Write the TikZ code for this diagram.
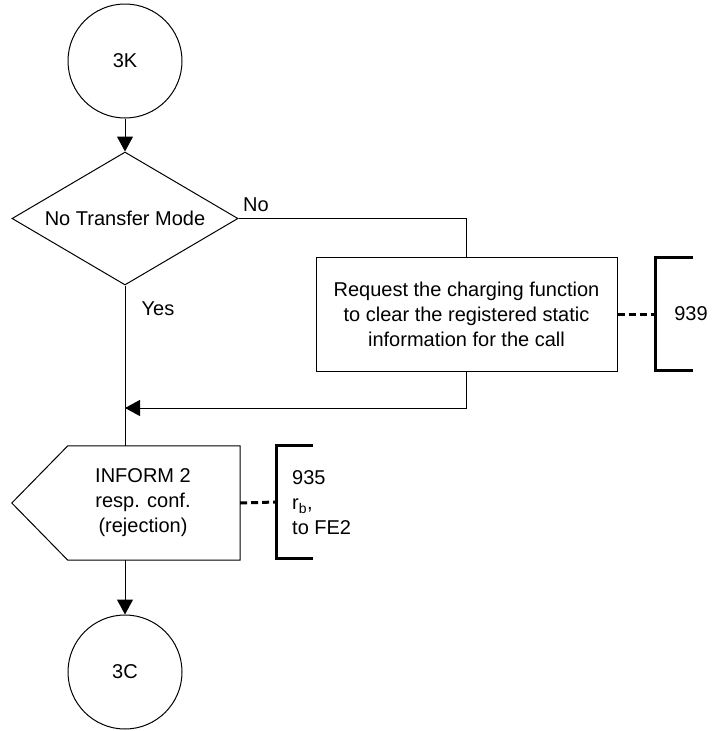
\documentclass[tikz,border=0pt]{standalone}
\usepackage{fontspec}
\setmainfont{Liberation Sans}
\usetikzlibrary{arrows.meta,shapes.geometric,calc}
\begin{document}
\begin{tikzpicture}[x=1pt,y=-1pt,
  every node/.style={font=\fontsize{20}{25}\selectfont},
  line/.style={draw=black,line width=1pt},
  arr/.style={line,-{Triangle[length=15pt,width=16pt]}},
  conn/.style={draw,circle,line width=1pt,minimum size=114pt,inner sep=0pt},
  decision/.style={draw,diamond,line width=1pt,minimum width=226pt,minimum height=133pt,aspect=1.7,inner sep=0pt},
  procbox/.style={draw,rectangle,line width=1pt,minimum width=301pt,minimum height=114pt,inner sep=0pt,align=center},
  brk/.style={line width=3pt,line cap=butt},
  dashlink/.style={line width=3pt,dash pattern=on 7pt off 4pt}
]
\useasboundingbox (0,0) rectangle (714,731);
% nodes
\node[conn] (c3K) at (125,61) {3K};
\node[decision] (dia) at (125,218.5) {No Transfer Mode};
\node[procbox] (box) at (466.5,314) {Request the charging function\\to clear the registered static\\information for the call};
\node[inner sep=0pt,minimum width=228pt,minimum height=114pt] (inf) at (126,503) {};
\draw[line] ($(inf.north west)+(56,0)$) -- (inf.north east) -- (inf.south east) -- ($(inf.south west)+(56,0)$) -- (inf.west) -- cycle;
\node[align=center] (inftxt) at (143,503) {INFORM 2\\resp. conf.\\(rejection)};
\node[conn] (c3C) at (125,672) {3C};
% labels
\node (no) at (256,205) {No};
\node (yes) at (158,309) {Yes};
% connectors
\draw[arr] (c3K.south) -- (dia.north);
\draw[line] (dia.east) -| (box.north);
\coordinate (join) at (125,408);
\draw[arr] (box.south) |- (join);
\draw[line] (dia.south) -- (dia.south |- inf.north);
\draw[arr] (dia.south |- inf.south) -- (c3C.north);
% bracket 939
\coordinate (b939t) at (693,257);
\coordinate (b939b) at (693,370);
\coordinate (b939m) at (655,314);
\draw[brk] (b939t) -- (655,257) -- (655,370) -- (b939b);
\draw[dashlink] (box.east) -- (b939m);
\node (t939) at (691,314) {939};
% bracket 935
\coordinate (b935t) at (313,445);
\coordinate (b935b) at (313,558);
\coordinate (b935m) at (276,502);
\draw[brk] (b935t) -- (276,445) -- (276,558) -- (b935b);
\draw[dashlink] (inf.east) -- (b935m);
\node[align=left,anchor=west,inner sep=0pt] (t935) at (292,503) {935\\r\textsubscript{b},\\to FE2};
\end{tikzpicture}
\end{document}
